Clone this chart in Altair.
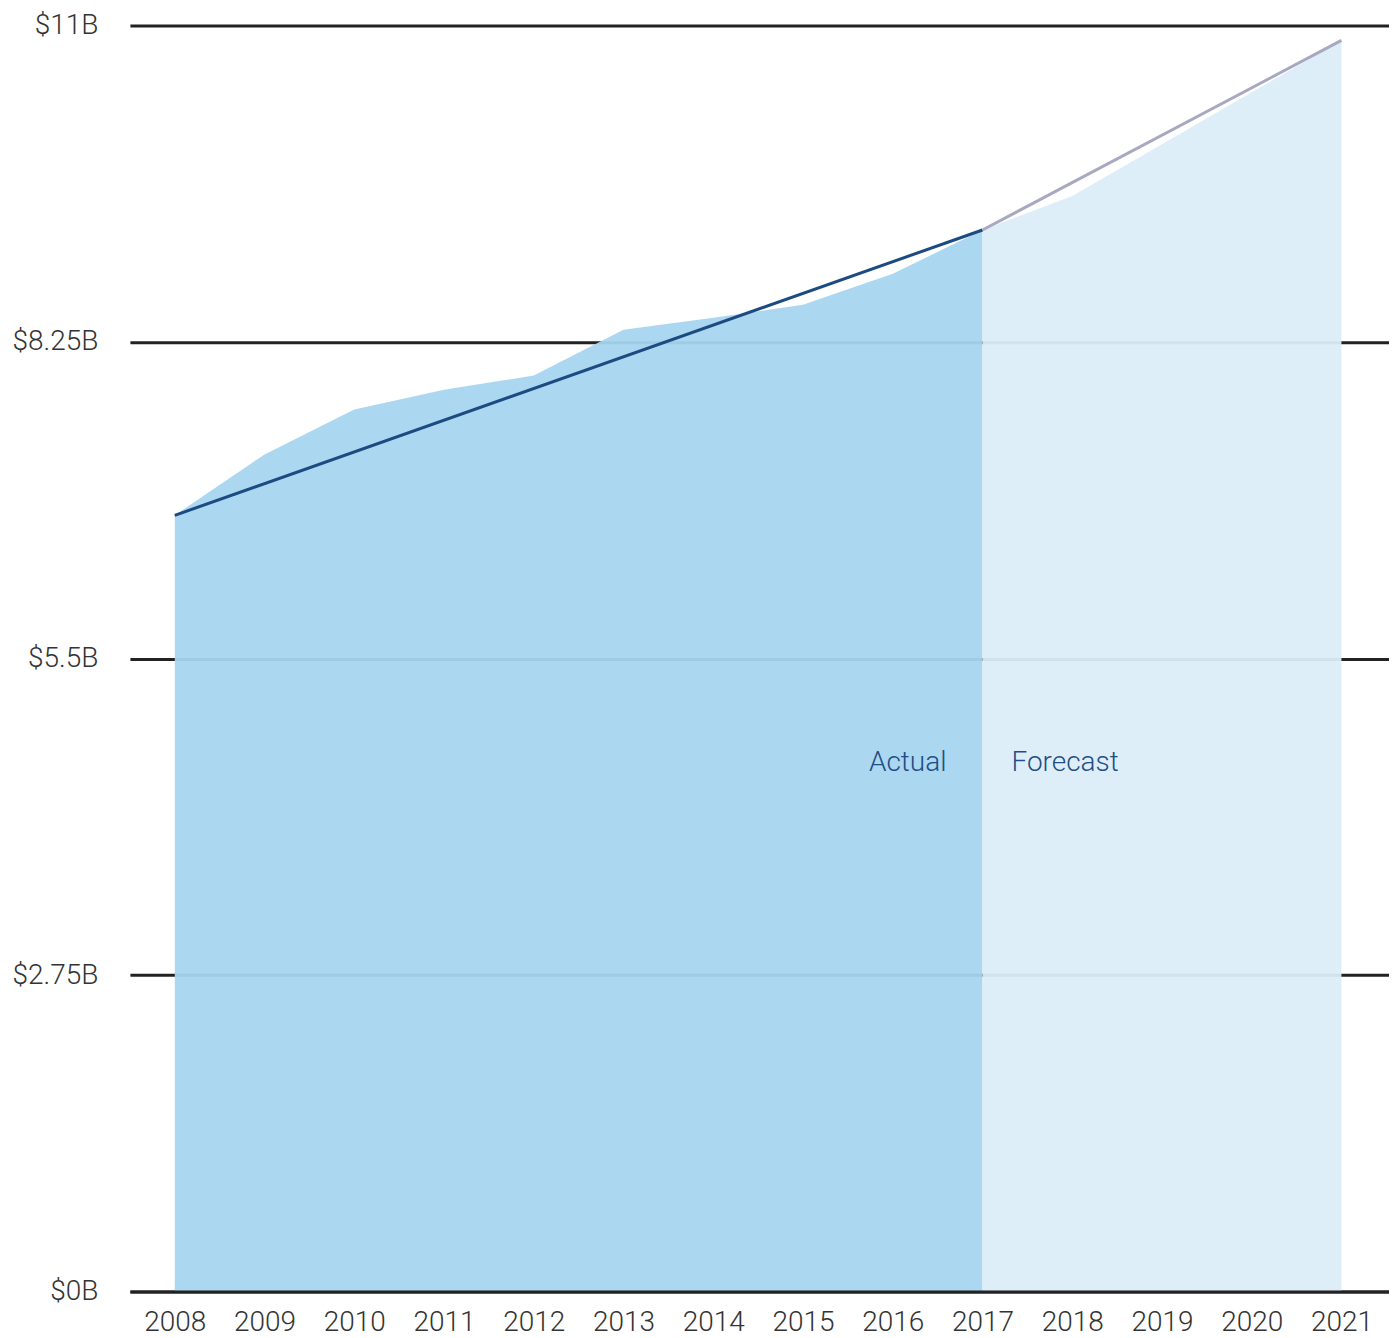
import altair as alt
import pandas as pd

years_actual = [2008, 2009, 2010, 2011, 2012, 2013, 2014, 2015, 2016, 2017]
values_actual = [6.744, 7.273, 7.663, 7.836, 7.958, 8.357, 8.461, 8.573, 8.842, 9.223]
years_forecast = [2017, 2018, 2019, 2020, 2021]
values_forecast = [9.223, 9.518, 9.969, 10.420, 10.870]
trend_actual_years = [2008, 2017]
trend_actual_values = [6.744, 9.223]
trend_forecast_years = [2017, 2021]
trend_forecast_values = [9.223, 10.870]
y_ticks = [0, 2.75, 5.5, 8.25, 11]
x_ticks = list(range(2008, 2022))
label_texts = ["Actual", "Forecast"]
label_years = [2017, 2017]
label_values = [4.52, 4.52]

FONT = "Roboto"

df_a = pd.DataFrame({"year": years_actual, "value": values_actual})
df_f = pd.DataFrame({"year": years_forecast, "value": values_forecast})
df_ta = pd.DataFrame({"year": trend_actual_years, "value": trend_actual_values})
df_tf = pd.DataFrame({"year": trend_forecast_years, "value": trend_forecast_values})

xscale = alt.Scale(domain=[2007.5, 2021.53], nice=False, zero=False)
yscale = alt.Scale(domain=[0, 11], nice=False)

xenc = alt.X("year:Q", scale=xscale, title=None,
             axis=alt.Axis(values=x_ticks, format="d", grid=False, ticks=False,
                           domain=True, domainColor="#222222", domainWidth=3,
                           labelFont=FONT, labelFontSize=28, labelFontWeight=300,
                           labelColor="#333333", labelPadding=17, zindex=1))
yenc = alt.Y("value:Q", scale=yscale, title=None,
             axis=alt.Axis(values=y_ticks, labelExpr="'$' + datum.value + 'B'",
                           grid=True, gridColor="#222222", gridWidth=3,
                           ticks=False, domain=False,
                           labelFont=FONT, labelFontSize=28, labelFontWeight=300,
                           labelColor="#333333", labelPadding=32))

area_a = alt.Chart(df_a).mark_area(color="#a6d5f0", opacity=0.95).encode(x=xenc, y=yenc)
area_f = alt.Chart(df_f).mark_area(color="#dcedf8", opacity=0.95).encode(x="year:Q", y="value:Q")
line_a = alt.Chart(df_ta).mark_line(color="#1b4b80", strokeWidth=3).encode(x="year:Q", y="value:Q")
line_f = alt.Chart(df_tf).mark_line(color="#a8a8c0", strokeWidth=3).encode(x="year:Q", y="value:Q")

df_lab = pd.DataFrame({"text": label_texts, "year": label_years, "value": label_values})
text_a = alt.Chart(df_lab.iloc[[0]]).mark_text(
    align="right", baseline="alphabetic", dx=-36, font=FONT, fontSize=28,
    fontWeight=300, color="#1f4e85").encode(x="year:Q", y="value:Q", text="text:N")
text_f = alt.Chart(df_lab.iloc[[1]]).mark_text(
    align="left", baseline="alphabetic", dx=29, font=FONT, fontSize=28,
    fontWeight=300, color="#1f4e85").encode(x="year:Q", y="value:Q", text="text:N")

chart = alt.layer(area_a, area_f, line_a, line_f, text_a, text_f).properties(
    width=1260, height=1267,
    autosize=alt.AutoSizeParams(type="none"),
    padding={"left": 122, "top": 17, "right": 0, "bottom": 50},
).configure_view(stroke=None)

chart.save("out.html", embed_options={"renderer": "svg", "actions": False})
